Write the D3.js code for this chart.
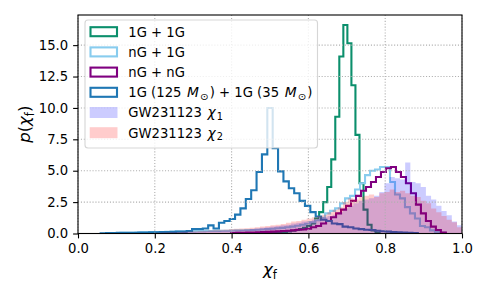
<!DOCTYPE html>
<meta charset="utf-8">
<style>
  body { margin: 0; background: #fff; }
  text { font-family: "DejaVu Sans", sans-serif; fill: #000; }
</style>
<div id="chart"></div>
<script src="https://cdn.jsdelivr.net/npm/d3@7"></script>
<script>

// density histograms: left edge of first bin, bin width, density per bin
var g11Start = 0.4915, g11Width = 0.0105;
var g11Density = [0.03, 0.05, 0.07, 0.1, 0.13, 0.17, 0.22, 0.28, 0.35, 0.45, 0.6, 0.8, 1.2, 1.7,
  2.5, 3.7, 5.9, 9.3, 14.1, 16.6, 15.15, 11.8, 7.85, 4.0, 1.9, 0.7, 0.25, 0.08];

var ng1gStart = 0.0845, ng1gWidth = 0.013;
var ng1gDensity = [0.03, 0.04, 0.05, 0.05, 0.06, 0.08, 0.1, 0.1, 0.12, 0.12,
  0.12, 0.13, 0.14, 0.15, 0.15, 0.16, 0.17, 0.18, 0.18, 0.2,
  0.2, 0.21, 0.22, 0.22, 0.24, 0.25, 0.26, 0.27, 0.28, 0.3,
  0.32, 0.35, 0.38, 0.42, 0.45, 0.5, 0.55, 0.62, 0.7, 0.78,
  0.9, 1.05, 1.25, 1.6, 1.8, 2.0, 2.4, 2.8, 3.0, 3.5,
  4.0, 4.65, 5.0, 5.1, 5.3, 5.3, 4.1, 3.1, 2.8, 2.1,
  1.6, 1.2, 0.6, 0.5, 0.25, 0.12, 0.05];

var ngngStart = 0.399, ngngWidth = 0.013;
var ngngDensity = [0.04, 0.05, 0.06, 0.07, 0.08, 0.1, 0.11, 0.13,
  0.15, 0.17, 0.2, 0.22, 0.25, 0.3, 0.32, 0.38, 0.5, 0.6, 0.8, 1.0,
  1.3, 1.6, 1.9, 2.2, 2.6, 3.0, 3.4, 3.7, 4.1, 4.5, 4.9, 5.2, 5.3,
  4.9, 4.5, 4.0, 3.2, 2.3, 1.6, 1.0, 0.55, 0.28, 0.08];

var heavyStart = 0.059, heavyWidth = 0.014;
var heavyDensity = [0.02, 0.03, 0.03, 0.05, 0.05, 0.06, 0.06, 0.07, 0.08, 0.1,
  0.1, 0.12, 0.12, 0.13, 0.15, 0.15, 0.2,
  0.35, 0.35, 0.4, 0.65, 0.4, 0.86, 1.0, 1.15, 1.5, 2.0, 2.75, 3.45, 4.9, 6.3,
  10.0,
  6.8, 4.95, 4.15, 3.6, 3.2, 2.6, 2.2, 1.7, 1.35, 1.1, 1.0, 0.8, 0.75,
  0.55, 0.5, 0.4, 0.35, 0.3, 0.28, 0.22, 0.18, 0.15, 0.12, 0.1, 0.08, 0.06, 0.04];

var gwStart = 0.204, gwWidth = 0.0135;
var gwChi1 = [0.03, 0.05, 0.06, 0.07, 0.08, 0.1, 0.11, 0.12, 0.14, 0.15,
  0.17, 0.18, 0.2, 0.22, 0.24, 0.26, 0.28,
  0.3, 0.35, 0.4, 0.45, 0.5, 0.55, 0.6, 0.65, 0.7, 0.8, 0.85, 0.95, 1.0, 1.1, 1.2, 1.3, 1.4, 1.5,
  1.7, 2.0, 2.2, 2.4, 2.6, 2.7, 2.8, 3.0, 3.3, 4.0, 4.5, 4.4, 4.3, 5.65, 4.1, 4.0,
  3.7, 3.0, 2.7, 2.2, 1.8, 1.45, 0.95, 0.65];
var gwChi2 = [0.05, 0.07, 0.09, 0.1, 0.12, 0.14, 0.15, 0.17, 0.2, 0.22,
  0.25, 0.27, 0.3, 0.32, 0.35, 0.37, 0.4,
  0.42, 0.45, 0.5, 0.55, 0.6, 0.65, 0.7, 0.75, 0.85, 0.95, 1.0, 1.1, 1.2, 1.3, 1.4, 1.5, 1.7, 1.9,
  2.1, 2.5, 2.8, 2.7, 2.9, 3.0, 3.1, 2.9, 3.2, 3.3, 3.5, 3.3, 3.4, 3.2, 3.0, 2.9,
  2.6, 2.4, 2.0, 1.7, 1.4, 1.1, 0.9, 0.5];

var xTicks = [0, 0.2, 0.4, 0.6, 0.8, 1.0];
var yTicks = [0, 2.5, 5, 7.5, 10, 12.5, 15];

var svg = d3.select("#chart").append("svg")
    .attr("width", 488)
    .attr("height", 293);

var pLeft = 78, pRight = 462, pTop = 15, pBottom = 233.5;
var x = d3.scaleLinear().domain([0, 1]).range([pLeft, pRight]);
var y = d3.scaleLinear().domain([0, 17.4]).range([pBottom, pTop]);

svg.append("defs").append("clipPath").attr("id", "plotclip")
  .append("rect")
    .attr("x", pLeft).attr("y", pTop)
    .attr("width", pRight - pLeft).attr("height", pBottom - pTop);

function stepPoints(start, width, dens) {
  var pts = [[start, 0]];
  dens.forEach(function(d, i) { pts.push([start + i * width, d]); });
  pts.push([start + dens.length * width, 0]);
  return pts;
}

var stepLine = d3.line()
    .x(function(d) { return x(d[0]); })
    .y(function(d) { return y(d[1]); })
    .curve(d3.curveStepAfter);

var stepArea = d3.area()
    .x(function(d) { return x(d[0]); })
    .y0(y(0))
    .y1(function(d) { return y(d[1]); })
    .curve(d3.curveStepAfter);

var plot = svg.append("g").attr("clip-path", "url(#plotclip)");

var outlines = [
  {pts: stepPoints(g11Start, g11Width, g11Density), color: "#0b8f6c"},
  {pts: stepPoints(ng1gStart, ng1gWidth, ng1gDensity), color: "#88ccee"},
  {pts: stepPoints(ngngStart, ngngWidth, ngngDensity), color: "#800080"},
  {pts: stepPoints(heavyStart, heavyWidth, heavyDensity), color: "#1f77b4"}
];

outlines.forEach(function(s) {
  plot.append("path")
      .attr("d", stepLine(s.pts))
      .attr("fill", "none")
      .attr("stroke", s.color)
      .attr("stroke-width", 2.1)
      .attr("stroke-linejoin", "miter");
});

plot.append("path")
    .attr("d", stepArea(stepPoints(gwStart, gwWidth, gwChi1)))
    .attr("fill", "blue")
    .attr("fill-opacity", 0.2);
plot.append("path")
    .attr("d", stepArea(stepPoints(gwStart, gwWidth, gwChi2)))
    .attr("fill", "red")
    .attr("fill-opacity", 0.2);

// dotted grid
var grid = svg.append("g").attr("class", "grid");
grid.selectAll(".gx").data(xTicks).enter().append("line")
    .attr("class", "gx")
    .attr("x1", function(d) { return x(d); })
    .attr("x2", function(d) { return x(d); })
    .attr("y1", pTop).attr("y2", pBottom);
grid.selectAll(".gy").data(yTicks).enter().append("line")
    .attr("class", "gy")
    .attr("y1", function(d) { return y(d); })
    .attr("y2", function(d) { return y(d); })
    .attr("x1", pLeft).attr("x2", pRight);
grid.selectAll("line")
    .attr("stroke", "#b0b0b0")
    .attr("stroke-width", 1.1)
    .attr("stroke-dasharray", "1.1,1.8");

// axes
var xAxis = svg.append("g")
    .attr("transform", "translate(0," + pBottom + ")")
    .call(d3.axisBottom(x).tickValues(xTicks).tickFormat(d3.format(".1f"))
      .tickSize(4.9).tickPadding(4.9));
var yAxis = svg.append("g")
    .attr("transform", "translate(" + pLeft + ",0)")
    .call(d3.axisLeft(y).tickValues(yTicks).tickFormat(d3.format(".1f"))
      .tickSize(4.9).tickPadding(4.9));
[xAxis, yAxis].forEach(function(a) {
  a.select(".domain").remove();
  a.selectAll("line").attr("stroke", "#000").attr("stroke-width", 1.1);
  a.selectAll("text")
      .style("font-family", "DejaVu Sans")
      .style("font-size", "13.2px");
});

svg.append("rect")
    .attr("x", pLeft).attr("y", pTop)
    .attr("width", pRight - pLeft).attr("height", pBottom - pTop)
    .attr("fill", "none")
    .attr("stroke", "#000")
    .attr("stroke-width", 1.1);

// axis labels
var xl = svg.append("text")
    .attr("x", (pLeft + pRight) / 2)
    .attr("y", 275)
    .attr("text-anchor", "middle")
    .style("font-size", "16.5px");
xl.append("tspan").style("font-style", "italic").text("χ");
xl.append("tspan").attr("dy", 3.5).style("font-size", "11.5px").text("f");

var yl = svg.append("text")
    .attr("transform", "translate(30," + ((pTop + pBottom) / 2) + ") rotate(-90)")
    .attr("text-anchor", "middle")
    .style("font-size", "16.5px");
yl.append("tspan").style("font-style", "italic").text("p");
yl.append("tspan").text("(");
yl.append("tspan").style("font-style", "italic").text("χ");
yl.append("tspan").attr("dy", 3.5).style("font-size", "11.5px").text("f");
yl.append("tspan").attr("dy", -3.5).text(")");

// legend
var legend = svg.append("g");
legend.append("rect")
    .attr("x", 85).attr("y", 20)
    .attr("width", 232.5).attr("height", 128)
    .attr("rx", 3)
    .attr("fill", "#fff").attr("fill-opacity", 0.8)
    .attr("stroke", "#cccccc").attr("stroke-opacity", 0.8)
    .attr("stroke-width", 1.1);

var entries = [
  {kind: "line", color: "#0b8f6c", parts: [["1G + 1G"]]},
  {kind: "line", color: "#88ccee", parts: [["nG + 1G"]]},
  {kind: "line", color: "#800080", parts: [["nG + nG"]]},
  {kind: "line", color: "#1f77b4", parts: [["1G (125 "], ["M", "i"], ["⊙", "s"], [") + 1G (35 "], ["M", "i"], ["⊙", "s"], [")"]]},
  {kind: "fill", color: "blue", parts: [["GW231123 "], ["χ", "i"], ["1", "s"]]},
  {kind: "fill", color: "red", parts: [["GW231123 "], ["χ", "i"], ["2", "s"]]}
];

entries.forEach(function(e, i) {
  var cy = 31.7 + i * 20.2;
  var r = legend.append("rect")
      .attr("x", 90.5).attr("y", cy - 4.5)
      .attr("width", 26.5).attr("height", 9);
  if (e.kind === "line") {
    r.attr("fill", "none").attr("stroke", e.color).attr("stroke-width", 2.1);
  } else {
    r.attr("x", 89.7).attr("y", cy - 5.5).attr("width", 27.8).attr("height", 11)
      .attr("fill", e.color).attr("fill-opacity", 0.2);
  }
  var t = legend.append("text")
      .attr("x", 128.3).attr("y", cy + 4.8)
      .style("font-size", "13.2px");
  var shifted = false;
  e.parts.forEach(function(p) {
    var s = t.append("tspan").text(p[0]);
    if (p[1] === "i") s.style("font-style", "italic").style("font-size", "13.8px").attr("dx", 1.5);
    if (p[1] === "s") {
      s.style("font-size", "9.8px").attr("dy", 2.8).attr("dx", 1);
      shifted = true;
    } else if (shifted) {
      s.attr("dy", -2.8).attr("dx", 1.5);
      shifted = false;
    }
  });
});
</script>
